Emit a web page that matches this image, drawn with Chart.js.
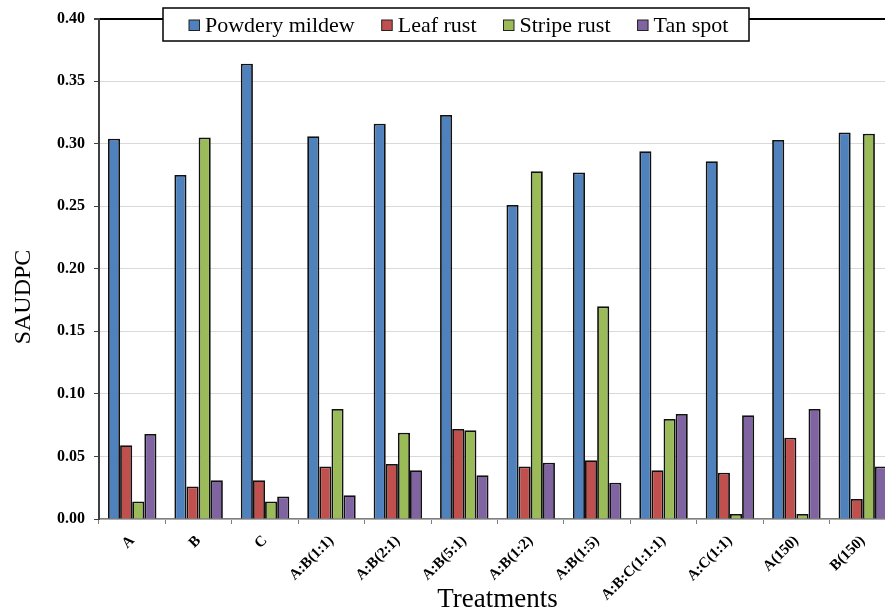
<!DOCTYPE html>
<html>
<head>
<meta charset="utf-8">
<script src="https://cdn.jsdelivr.net/npm/chart.js@4"></script>
<style>
  html, body { margin: 0; padding: 0; overflow: hidden; background: #fff; }
  #wrap { width: 900px; height: 616px; }
</style>
</head>
<body>
<div id="wrap"><canvas id="chart" width="900" height="616"></canvas></div>
<script>
const treatments = ['A', 'B', 'C', 'A:B(1:1)', 'A:B(2:1)', 'A:B(5:1)', 'A:B(1:2)', 'A:B(1:5)', 'A:B:C(1:1:1)', 'A:C(1:1)', 'A(150)', 'B(150)'];
const powderyMildew = [0.304, 0.275, 0.364, 0.306, 0.316, 0.323, 0.251, 0.277, 0.294, 0.286, 0.303, 0.309];
const leafRust = [0.059, 0.026, 0.031, 0.042, 0.044, 0.072, 0.042, 0.047, 0.039, 0.037, 0.065, 0.016];
const stripeRust = [0.014, 0.305, 0.014, 0.088, 0.069, 0.071, 0.278, 0.170, 0.080, 0.004, 0.004, 0.308];
const tanSpot = [0.068, 0.031, 0.018, 0.019, 0.039, 0.035, 0.045, 0.029, 0.084, 0.083, 0.088, 0.042];
const yTicks = [0, 0.05, 0.1, 0.15, 0.2, 0.25, 0.3, 0.35, 0.4];

const serif = '"Liberation Serif", "Times New Roman", serif';

// legend box sits on top of the plot, like the original
const boxLegend = {
  id: 'boxLegend',
  afterDraw(chart) {
    const ctx = chart.ctx;
    ctx.save();
    ctx.fillStyle = '#fff';
    ctx.fillRect(163, 8, 586, 33);
    ctx.strokeStyle = '#000';
    ctx.lineWidth = 1.5;
    ctx.strokeRect(163, 8, 586, 33);
    ctx.font = '22px ' + serif;
    ctx.textBaseline = 'alphabetic';
    let x = 189;
    chart.data.datasets.forEach(ds => {
      ctx.fillStyle = ds.backgroundColor;
      ctx.fillRect(x, 20, 10.5, 10.5);
      ctx.strokeStyle = '#222';
      ctx.lineWidth = 1;
      ctx.strokeRect(x, 20, 10.5, 10.5);
      ctx.fillStyle = '#000';
      ctx.fillText(ds.label, x + 16, 32);
      x += 16 + ctx.measureText(ds.label).width + 27;
    });
    // y axis title, sits a bit below centre in the original
    ctx.translate(24, 297);
    ctx.rotate(-Math.PI / 2);
    ctx.font = '24px ' + serif;
    ctx.textAlign = 'center';
    ctx.textBaseline = 'middle';
    ctx.fillText('SAUDPC', 0, 0);
    ctx.restore();
  }
};

const mk = (label, data, color) => ({
  label: label,
  data: data,
  backgroundColor: color,
  borderColor: '#111',
  borderWidth: 1.8,
  borderSkipped: 'bottom',
  categoryPercentage: 0.73,
  barPercentage: 1.0,
});

new Chart(document.getElementById('chart'), {
  type: 'bar',
  data: {
    labels: treatments,
    datasets: [
      mk('Powdery mildew', powderyMildew, '#4F81BD'),
      mk('Leaf rust', leafRust, '#C0504D'),
      mk('Stripe rust', stripeRust, '#9BBB59'),
      mk('Tan spot', tanSpot, '#8064A2'),
    ],
  },
  options: {
    responsive: false,
    animation: false,
    devicePixelRatio: 1,
    layout: { padding: { top: 17, right: 4, left: 0, bottom: 0 } },
    plugins: {
      legend: { display: false },
      tooltip: { enabled: false },
    },
    scales: {
      x: {
        afterFit: s => { s.height = 97; },
        grid: { drawOnChartArea: false, drawTicks: true, tickLength: 5, tickColor: '#7f7f7f' },
        border: { color: '#7f7f7f', width: 1.5 },
        ticks: {
          color: '#000',
          font: { family: serif, size: 15, weight: 'bold' },
          minRotation: 45,
          maxRotation: 45,
          padding: 8,
          autoSkip: false,
        },
        title: {
          display: true,
          text: 'Treatments',
          color: '#000',
          font: { family: serif, size: 27 },
          padding: { top: 0, bottom: 0 },
        },
      },
      y: {
        min: 0,
        max: 0.4,
        afterFit: s => { s.width = 99; },
        afterBuildTicks: s => { s.ticks = yTicks.map(v => ({ value: v })); },
        grid: {
          color: c => (c.tick && c.tick.value === 0.4 ? '#000' : '#d9d9d9'),
          lineWidth: c => (c.tick && c.tick.value === 0.4 ? 2 : 1),
          tickLength: 5,
          tickColor: '#404040',
        },
        border: { color: '#404040', width: 2 },
        ticks: {
          color: '#000',
          font: { family: serif, size: 16, weight: 'bold' },
          padding: 9,
          callback: v => Number(v).toFixed(2),
        },
      },
    },
  },
  plugins: [boxLegend],
});
</script>
</body>
</html>
